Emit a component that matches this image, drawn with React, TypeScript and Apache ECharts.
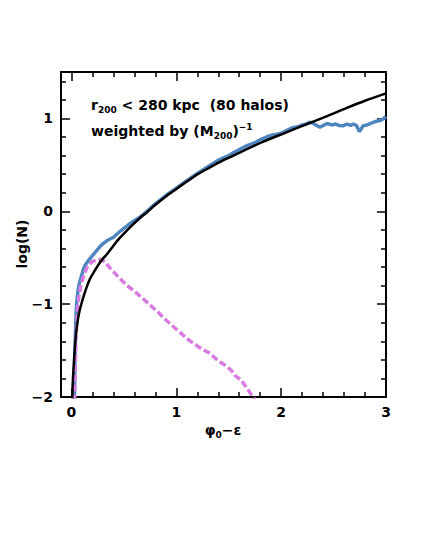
import React, { useEffect, useRef } from "react";
import * as echarts from "echarts";

// Model curve (black)
const modelPhi = [0.006, 0.012, 0.018, 0.025, 0.035, 0.045, 0.057, 0.07, 0.089, 0.12, 0.15, 0.18, 0.216, 0.26, 0.3, 0.34, 0.4, 0.45, 0.5, 0.57, 0.645, 0.72, 0.8, 0.9, 1.0, 1.1, 1.19, 1.3, 1.45, 1.6, 1.83, 2.05, 2.27, 2.45, 2.62, 2.8, 3.0];
const modelLogN = [-2.05, -1.85, -1.72, -1.59, -1.42, -1.3, -1.2, -1.11, -1.02, -0.9, -0.8, -0.72, -0.65, -0.57, -0.51, -0.46, -0.37, -0.3, -0.24, -0.16, -0.08, -0.01, 0.07, 0.16, 0.24, 0.32, 0.39, 0.46, 0.55, 0.63, 0.75, 0.85, 0.95, 1.03, 1.11, 1.19, 1.27];

// All particles (blue)
const allPhi = [0.028, 0.031, 0.035, 0.04, 0.045, 0.05, 0.06, 0.07, 0.089, 0.11, 0.13, 0.155, 0.184, 0.22, 0.25, 0.28, 0.31, 0.35, 0.4, 0.47, 0.56, 0.645, 0.72, 0.8, 0.9, 1.0, 1.1, 1.19, 1.3, 1.4, 1.5, 1.56, 1.61, 1.68, 1.75, 1.8, 1.86, 1.91, 1.96, 2.0, 2.05, 2.11, 2.16, 2.2, 2.24, 2.27, 2.3, 2.33, 2.37, 2.41, 2.44, 2.48, 2.52, 2.55, 2.59, 2.63, 2.66, 2.69, 2.72, 2.745, 2.76, 2.78, 2.82, 2.86, 2.91, 2.95, 2.98, 3.0];
const allLogN = [-2.05, -1.75, -1.45, -1.2, -1.08, -0.98, -0.88, -0.8, -0.72, -0.64, -0.58, -0.54, -0.5, -0.45, -0.41, -0.37, -0.34, -0.31, -0.28, -0.21, -0.13, -0.07, 0.0, 0.08, 0.17, 0.25, 0.33, 0.4, 0.48, 0.55, 0.6, 0.64, 0.67, 0.71, 0.74, 0.77, 0.8, 0.82, 0.83, 0.84, 0.87, 0.9, 0.91, 0.93, 0.94, 0.96, 0.95, 0.93, 0.905, 0.93, 0.945, 0.93, 0.94, 0.925, 0.92, 0.94, 0.925, 0.94, 0.92, 0.86, 0.88, 0.92, 0.93, 0.95, 0.97, 0.98, 1.0, 1.02];

// Bound particles (magenta, dashed)
const boundPhi = [0.028, 0.032, 0.036, 0.042, 0.05, 0.057, 0.07, 0.089, 0.12, 0.15, 0.2, 0.25, 0.29, 0.33, 0.375, 0.45, 0.53, 0.6, 0.67, 0.75, 0.82, 0.89, 1.0, 1.11, 1.2, 1.24, 1.32, 1.4, 1.48, 1.53, 1.56, 1.62, 1.67, 1.72, 1.76];
const boundLogN = [-2.05, -1.9, -1.7, -1.4, -1.2, -1.05, -0.92, -0.8, -0.68, -0.6, -0.54, -0.52, -0.52, -0.56, -0.62, -0.71, -0.8, -0.86, -0.93, -1.01, -1.08, -1.16, -1.27, -1.38, -1.45, -1.48, -1.53, -1.61, -1.67, -1.72, -1.77, -1.82, -1.9, -1.98, -2.05];

const xMin = -0.1;
const xMax = 3;
const yMin = -2;
const yMax = 1.5;

const FONT = "DejaVu Sans";

const pairs = (xs: number[], ys: number[]) => xs.map((x, i) => [x, ys[i]]);

const tickFmt = (v: number) =>
  Number.isInteger(v) ? String(v).replace("-", "\u2212") : "";

export default function App() {
  const ref = useRef<HTMLDivElement>(null);
  useEffect(() => {
    document.body.style.margin = "0";
    if (!ref.current) return;
    const chart = echarts.init(ref.current, undefined, { renderer: "svg" });
    const axisLine = { show: true, onZero: false, lineStyle: { color: "#000", width: 2 } };
    const axisTick = { show: true, inside: true, length: 9, lineStyle: { color: "#000", width: 1.5 } };
    const minorTick = { show: true, splitNumber: 5, length: 5, lineStyle: { color: "#000", width: 1.5 } };
    const label = {
      color: "#000",
      fontFamily: FONT,
      fontWeight: "bold" as const,
      fontSize: 14,
      formatter: tickFmt,
    };
    const xBase = {
      type: "value" as const,
      min: xMin,
      max: xMax,
      splitNumber: 3,
      axisLine,
      axisTick,
      minorTick,
      splitLine: { show: false },
    };
    const yBase = {
      type: "value" as const,
      min: yMin,
      max: yMax,
      splitNumber: 3,
      axisLine,
      axisTick,
      minorTick,
      splitLine: { show: false },
    };
    chart.setOption({
      animation: false,
      backgroundColor: "#fff",
      grid: { left: 61, right: 35, top: 72, bottom: 148, outerBoundsMode: "none" },
      xAxis: [
        { ...xBase, position: "bottom", axisLabel: { ...label, margin: 8 } },
        { ...xBase, position: "top", axisLabel: { show: false } },
      ],
      yAxis: [
        { ...yBase, position: "left", axisLabel: { ...label, margin: 8 } },
        { ...yBase, position: "right", axisLabel: { show: false } },
      ],
      series: [
        {
          type: "line",
          data: pairs(allPhi, allLogN),
          showSymbol: false,
          symbol: "none",
          lineStyle: { color: "#4f86c0", width: 3.5 },
          clip: true,
          z: 2,
        },
        {
          type: "line",
          data: pairs(boundPhi, boundLogN),
          showSymbol: false,
          symbol: "none",
          lineStyle: { color: "#d97be0", width: 3.5, type: [7, 3] },
          clip: true,
          z: 3,
        },
        {
          type: "line",
          data: pairs(modelPhi, modelLogN),
          smooth: 0.3,
          showSymbol: false,
          symbol: "none",
          lineStyle: { color: "#000", width: 2.5 },
          clip: true,
          z: 4,
        },
      ],
      graphic: [
        {
          type: "text",
          left: 91,
          top: 98,
          z: 10,
          style: {
            text: "{m|r}{s|200}{m| < 280 kpc  (80 halos)}",
            rich: {
              m: { fontFamily: FONT, fontWeight: "bold", fontSize: 14, fill: "#000" },
              s: { fontFamily: FONT, fontWeight: "bold", fontSize: 9, fill: "#000", padding: [9, 0, 0, 0] },
            },
          },
        },
        {
          type: "text",
          left: 91,
          top: 122,
          z: 10,
          style: {
            text: "{m|weighted by (M}{s|200}{m|)}{p|\u22121}",
            rich: {
              m: { fontFamily: FONT, fontWeight: "bold", fontSize: 14, fill: "#000" },
              s: { fontFamily: FONT, fontWeight: "bold", fontSize: 9, fill: "#000", padding: [9, 0, 0, 0] },
              p: { fontFamily: FONT, fontWeight: "bold", fontSize: 9, fill: "#000", padding: [0, 0, 9, 0] },
            },
          },
        },
        {
          type: "text",
          x: 22,
          y: 244,
          rotation: Math.PI / 2,
          z: 10,
          style: {
            text: "log(N)",
            fontFamily: FONT,
            fontWeight: "bold",
            fontSize: 14,
            fill: "#000",
            align: "center",
            verticalAlign: "middle",
          },
        },
        {
          type: "text",
          x: 223,
          y: 430,
          z: 10,
          style: {
            text: "{m|\u03c6}{s|0}{m|\u2212\u03b5}",
            align: "center",
            verticalAlign: "middle",
            rich: {
              m: { fontFamily: FONT, fontWeight: "bold", fontSize: 14, fill: "#000" },
              s: { fontFamily: FONT, fontWeight: "bold", fontSize: 9, fill: "#000", padding: [9, 0, 0, 0] },
            },
          },
        },
      ],
    });
    return () => chart.dispose();
  }, []);
  return <div ref={ref} style={{ width: 421, height: 545 }} />;
}
